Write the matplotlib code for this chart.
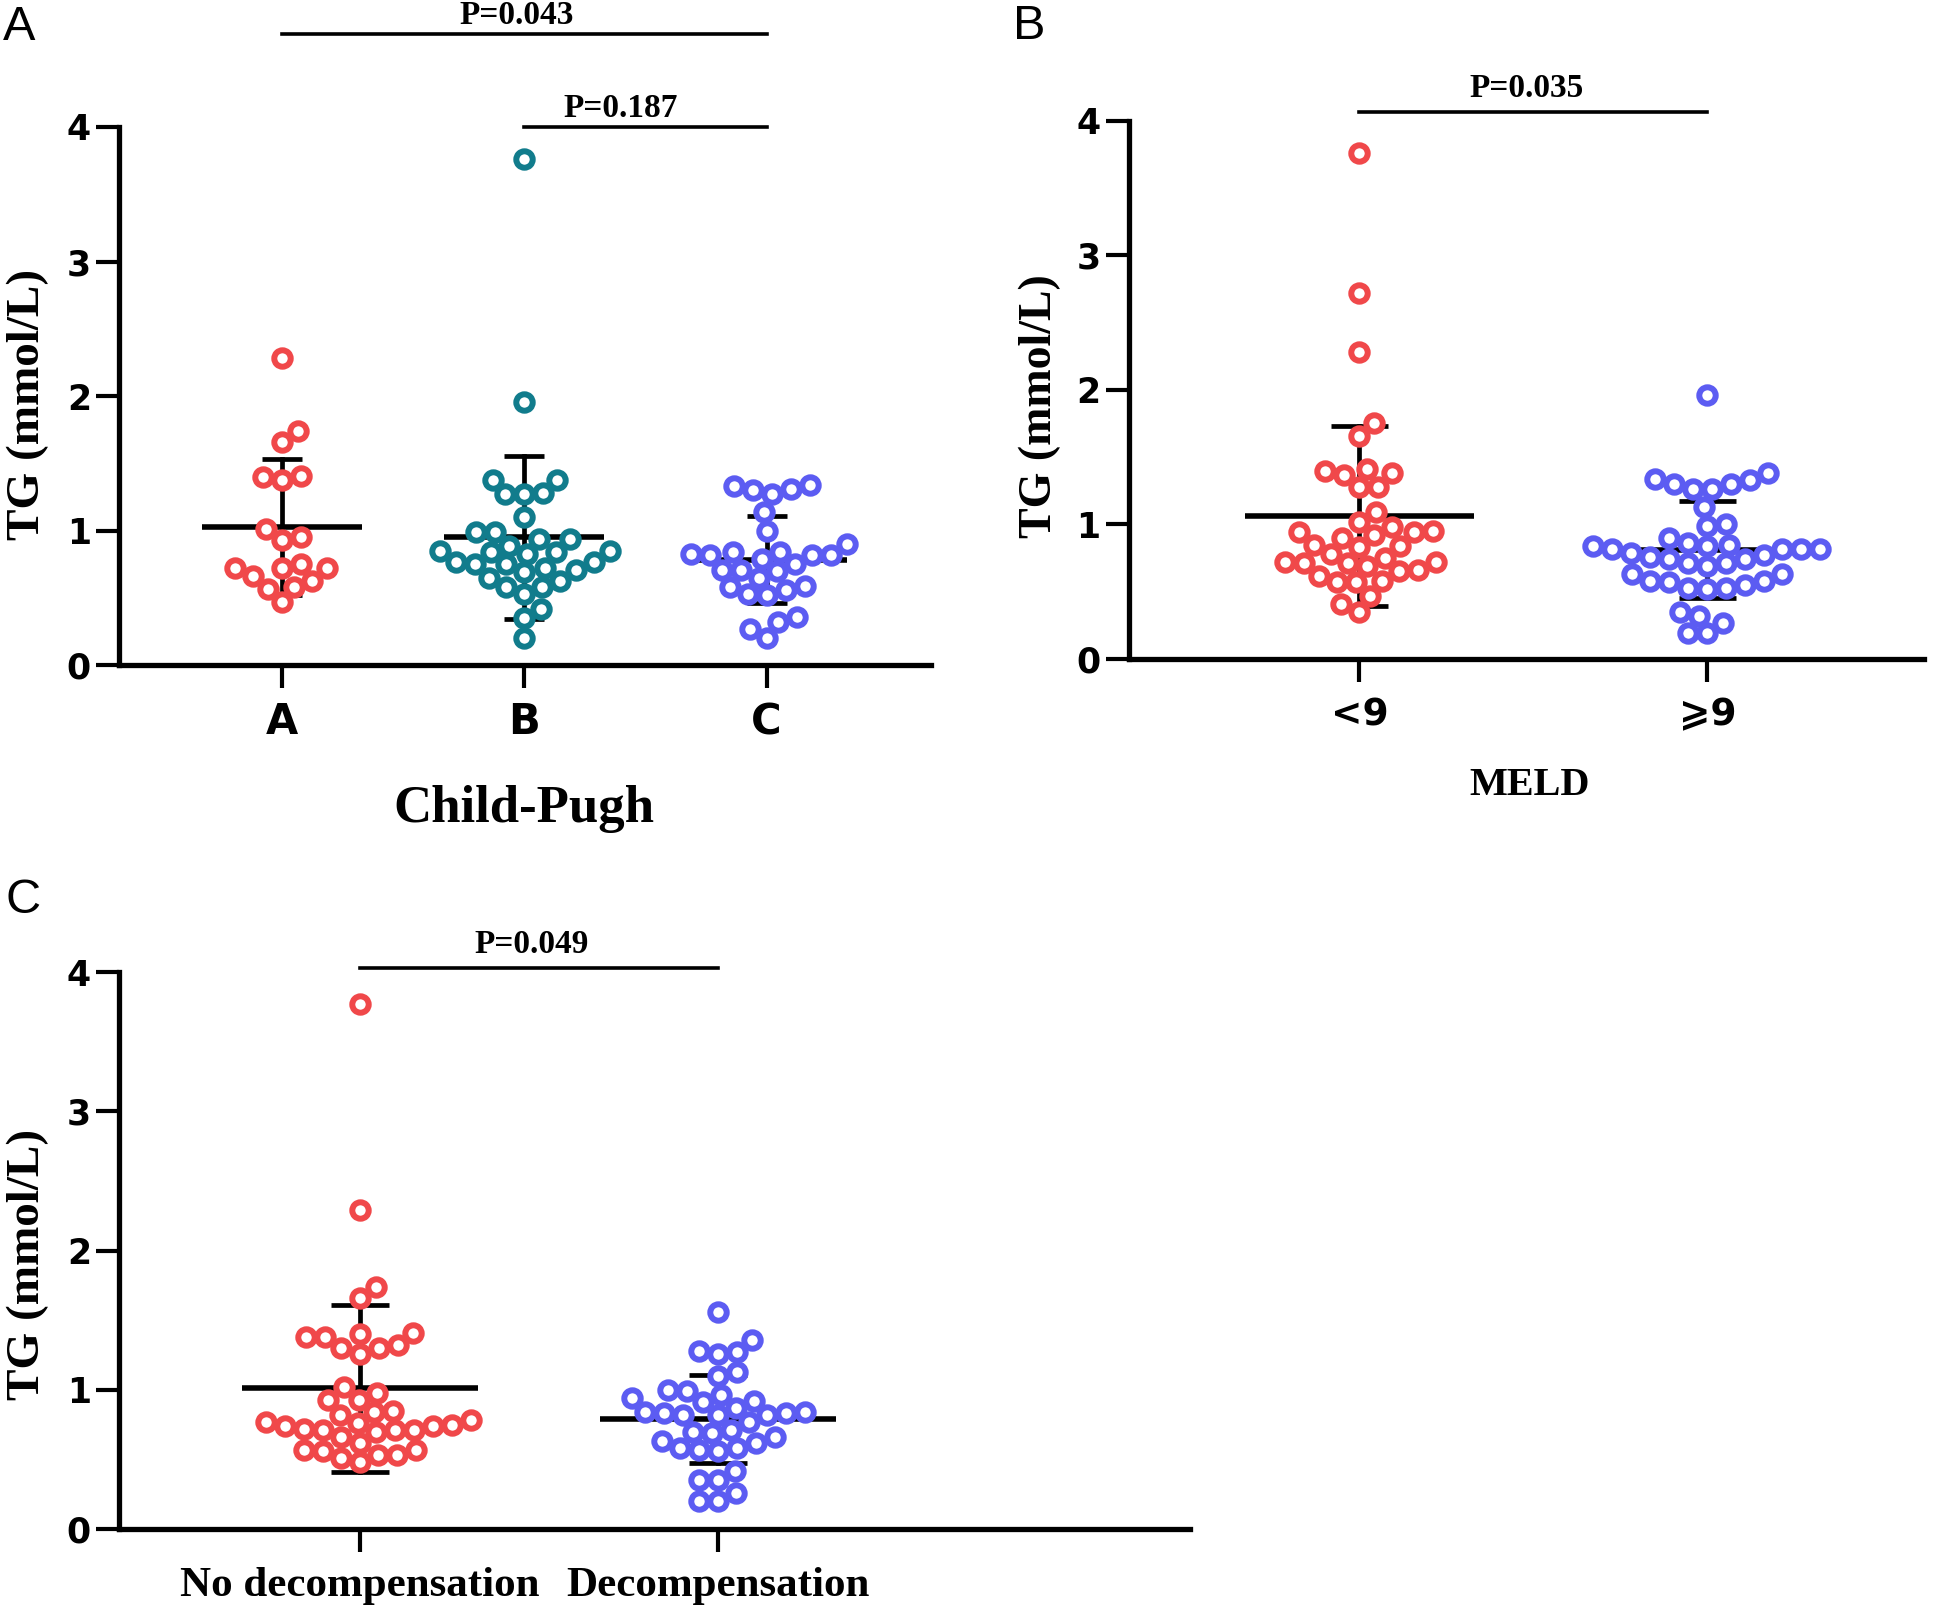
import numpy as np
import matplotlib
matplotlib.use("Agg")
import matplotlib.pyplot as plt

# TG (mmol/L) values
cp_labels = ["A", "B", "C"]
cp_a = [2.28, 1.74, 1.66, 1.40, 1.41, 1.38, 1.01, 0.93, 0.95, 0.72, 0.66, 0.75,
        0.72, 0.72, 0.63, 0.58, 0.57, 0.47]
cp_b = [3.76, 1.96, 1.38, 1.38, 1.27, 1.27, 1.28, 1.10, 0.99, 0.99, 0.84, 0.83,
        0.84, 0.85, 0.89, 0.94, 0.94, 0.85, 0.75, 0.77, 0.71, 0.69, 0.72, 0.75,
        0.77, 0.65, 0.63, 0.58, 0.53, 0.58, 0.42, 0.35, 0.20]
cp_c = [1.27, 1.31, 1.30, 1.33, 1.34, 1.14, 1.00, 0.90, 0.82, 0.82, 0.82, 0.84,
        0.84, 0.75, 0.71, 0.79, 0.83, 0.71, 0.70, 0.65, 0.59, 0.58, 0.52, 0.53,
        0.56, 0.36, 0.32, 0.27, 0.20]
cp_mean = [1.03, 0.95, 0.785]
cp_sd = [0.505, 0.605, 0.323]

meld_labels = ["<9", "\u2a7e9"]
meld_lt9 = [3.76, 2.72, 2.28, 1.75, 1.66, 1.41, 1.37, 1.40, 1.28, 1.28, 1.38,
            1.09, 0.98, 0.90, 0.95, 1.02, 0.92, 0.94, 0.94, 0.85, 0.84, 0.83,
            0.78, 0.72, 0.71, 0.69, 0.66, 0.75, 0.71, 0.65, 0.72, 0.62, 0.57,
            0.57, 0.58, 0.47, 0.41, 0.35]
meld_ge9 = [1.96, 1.30, 1.30, 1.34, 1.38, 1.26, 1.26, 1.33, 1.13, 1.00, 0.99,
            0.82, 0.84, 0.74, 0.71, 0.71, 0.63, 0.86, 0.76, 0.82, 0.82, 0.77,
            0.82, 0.69, 0.74, 0.79, 0.85, 0.84, 0.90, 0.58, 0.52, 0.58, 0.55,
            0.57, 0.53, 0.63, 0.53, 0.35, 0.32, 0.27, 0.19, 0.19]
meld_mean = [1.065, 0.81]
meld_sd = [0.668, 0.36]

dec_labels = ["No decompensation", "Decompensation"]
dec_no = [3.77, 2.29, 1.74, 1.66, 1.38, 1.30, 1.38, 1.32, 1.26, 1.40, 1.41,
          1.30, 0.98, 1.02, 0.93, 0.93, 0.75, 0.74, 0.74, 0.71, 0.77, 0.85,
          0.70, 0.66, 0.78, 0.84, 0.82, 0.72, 0.76, 0.71, 0.71, 0.62, 0.56,
          0.53, 0.53, 0.57, 0.51, 0.57, 0.48]
dec_yes = [1.56, 1.36, 1.26, 1.28, 1.27, 1.13, 1.10, 0.99, 0.91, 0.87, 0.82,
           0.77, 0.71, 0.69, 0.63, 0.58, 0.58, 0.82, 0.84, 0.92, 0.83, 0.84,
           0.83, 0.94, 0.96, 1.00, 0.82, 0.70, 0.62, 0.57, 0.66, 0.56, 0.42,
           0.35, 0.35, 0.26, 0.20, 0.20]
dec_mean = [1.01, 0.79]
dec_sd = [0.602, 0.318]

p_cp = [(0, 2, 4.69, 0.97, "P=0.043"), (1, 2, 4.0, 1.40, "P=0.187")]
p_meld = [(0, 1, 4.06, 0.48, "P=0.035")]
p_dec = [(0, 1, 4.03, 0.48, "P=0.049")]

RED = "#F0484A"
TEAL = "#117C8C"
BLUE = "#5C5CF2"

W, H = 1944, 1609
fig = plt.figure(figsize=(W / 100, H / 100), dpi=100)


def rect(x0, y_top, x1, y_bot):
    return [x0 / W, 1 - y_bot / H, (x1 - x0) / W, (y_bot - y_top) / H]


def swarm_x(ax, center, vals, d=19.0, grid=1.0):
    vals = np.asarray(vals, float)
    p0 = ax.transData.transform((0, 0))
    p1 = ax.transData.transform((1, 1))
    sx, sy = p1[0] - p0[0], p1[1] - p0[1]
    ys = vals * sy
    offs = np.zeros(len(vals))
    placed = []
    cands = np.arange(-250, 250 + grid, grid)
    for n, i in enumerate(np.argsort(vals)):
        y = ys[i]
        near = [(px, py) for px, py in placed if abs(py - y) < d]
        sign = 1 if n % 2 else -1
        order = sorted(cands, key=lambda c: (abs(c), sign * c))
        best = 0.0
        for c in order:
            if all((c - px) ** 2 + (y - py) ** 2 >= d * d for px, py in near):
                best = c
                break
        placed.append((best, y))
        offs[i] = best / sx
    return center + offs


def panel(ax, groups, colors, labels, means, sds, xlim, tick_fs, tick_pad, tick_family):
    ax.set_xlim(*xlim)
    ax.set_ylim(0, 4)
    for s in ["top", "right"]:
        ax.spines[s].set_visible(False)
    for s in ["left", "bottom"]:
        ax.spines[s].set_linewidth(3.8)
    ax.set_yticks([0, 1, 2, 3, 4])
    ax.set_xticks(range(len(groups)))
    ax.set_xticklabels(labels, fontsize=tick_fs, fontweight="bold", family=tick_family)
    ax.tick_params(axis="both", direction="out", length=16.5, width=3.0)
    ax.tick_params(axis="x", pad=tick_pad)
    ax.tick_params(axis="y", pad=4)
    for t in ax.get_yticklabels():
        t.set_fontsize(25)
        t.set_fontweight("bold")
        t.set_family("DejaVu Sans")
    for i, (vals, col) in enumerate(zip(groups, colors)):
        m, sd = means[i], sds[i]
        ax.plot([i - 0.33, i + 0.33], [m, m], color="black", lw=4.0, zorder=2,
                solid_capstyle="butt")
        ax.plot([i, i], [m - sd, m + sd], color="black", lw=3.4, zorder=2)
        for yy in (m - sd, m + sd):
            ax.plot([i - 0.082, i + 0.082], [yy, yy], color="black", lw=3.4, zorder=2,
                    solid_capstyle="butt")
        xs = swarm_x(ax, i, vals)
        ax.scatter(xs, vals, s=140, facecolors="white", edgecolors=col,
                   linewidths=4.3, zorder=3, clip_on=False)


def pbars(ax, bars, gap):
    for x1, x2, y, xt, txt in bars:
        ax.plot([x1, x2], [y, y], color="black", lw=2.6, clip_on=False)
        ax.annotate(txt, xy=(xt, y), xytext=(0, gap), textcoords="offset points",
                    ha="center", va="baseline", fontsize=24, fontweight="bold",
                    family="Liberation Serif", annotation_clip=False)


serif = dict(family="Liberation Serif", fontweight="bold")

# panel A
axA = fig.add_axes(rect(119.4, 127, 930.8, 665.3))
panel(axA, [cp_a, cp_b, cp_c], [RED, TEAL, BLUE], cp_labels, cp_mean, cp_sd,
      (-0.669, 2.677), 30, 9.5, "DejaVu Sans")
pbars(axA, p_cp, 7)

# panel B
axB = fig.add_axes(rect(1129, 120.5, 1924, 659))
panel(axB, [meld_lt9, meld_ge9], [RED, BLUE], meld_labels, meld_mean, meld_sd,
      (-0.662, 1.622), 27, 11, ["DejaVu Sans", "Noto Sans CJK SC"])
pbars(axB, p_meld, 11)

# panel C
axC = fig.add_axes(rect(119.4, 972.3, 1190, 1529))
panel(axC, [dec_no, dec_yes], [RED, BLUE], dec_labels, dec_mean, dec_sd,
      (-0.673, 2.32), 31, 11, "Liberation Serif")
pbars(axC, p_dec, 11)

# axis titles
fig.text(27.5 / W, 1 - 404.5 / H, "TG (mmol/L)", rotation=90, ha="center", va="center",
         fontsize=34, **serif)
fig.text(1040 / W, 1 - 406.6 / H, "TG (mmol/L)", rotation=90, ha="center", va="center",
         fontsize=33, **serif)
fig.text(27.5 / W, 1 - 1264 / H, "TG (mmol/L)", rotation=90, ha="center", va="center",
         fontsize=34, **serif)
fig.text(523.6 / W, 1 - 822 / H, "Child-Pugh", ha="center", va="baseline",
         fontsize=38, **serif)
fig.text(1530 / W, 1 - 795 / H, "MELD", ha="center", va="baseline",
         fontsize=29, **serif)

# panel letters
for x, y, s in [(3, 40, "A"), (1013, 39, "B"), (6, 912.6, "C")]:
    fig.text(x / W, 1 - y / H, s, ha="left", va="baseline", fontsize=35,
             family="Liberation Sans")

fig.savefig("out.png", dpi=100, facecolor="white")
